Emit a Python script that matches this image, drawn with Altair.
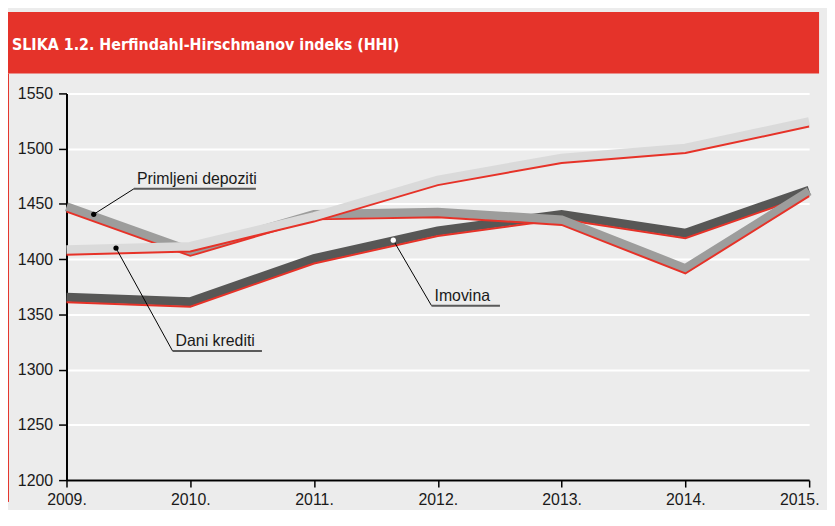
import altair as alt
import pandas as pd

# ---------------- data ----------------
years = [2009, 2010, 2011, 2012, 2013, 2014, 2015]
imovina = [1361, 1357, 1396, 1421, 1436, 1419, 1458]
primljeni_depoziti = [1443, 1403, 1436, 1438, 1431, 1387, 1457]
dani_krediti = [1404, 1407, 1434, 1467, 1487, 1496, 1520]

series_names = ["Imovina", "Primljeni depoziti", "Dani krediti"]
series_values = [imovina, primljeni_depoziti, dani_krediti]
band_colors = ["#575756", "#9d9d9c", "#dadada"]
red = "#e63228"

y_ticks = [1200, 1250, 1300, 1350, 1400, 1450, 1500, 1550]

title_text = "SLIKA 1.2. Herfindahl-Hirschmanov indeks (HHI)"

# annotation labels (anchored in data coordinates)
ann_labels = ["Primljeni depoziti", "Dani krediti", "Imovina"]
ann_dot_year = [2009.22, 2009.40, 2011.64]
ann_dot_value = [1440.6, 1410.0, 1417.2]
ann_line_start = [2009.545, 2009.857, 2011.949]
ann_line_end = [2010.53, 2010.579, 2012.502]
ann_line_value = [1463.7, 1316.9, 1357.9]
ann_dot_fill = ["#000000", "#000000", "#ffffff"]

FONT = "Liberation Sans"
TITLE_FONT = "Liberation Sans Narrow, DejaVu Sans Condensed, Roboto Condensed, Liberation Sans"
W, H = 749, 390

x_scale = alt.Scale(domain=[2009, 2015], nice=False, zero=False)
y_scale = alt.Scale(domain=[1200, 1550], nice=False, zero=False)

x_axis = alt.Axis(values=years, labelExpr="datum.value + '.'", title=None, grid=False,
                  domainColor="black", domainWidth=2, tickColor="black", tickWidth=1.5,
                  tickSize=7, labelFontSize=16, labelFont=FONT, labelColor="#1a1a1a",
                  labelPadding=5, labelFlush=False, labelOverlap=False,
                  labelOffset={"condition": {"test": "datum.value == 2015", "value": -10},
                               "value": 0})
y_axis = alt.Axis(values=y_ticks, format="d", title=None, grid=True, gridColor="white",
                  gridWidth=2, domainColor="black", domainWidth=2, tickColor="black",
                  tickWidth=1.5, tickSize=8, labelFontSize=16, labelFont=FONT,
                  labelColor="#1a1a1a", labelPadding=6)

layers = []

# header banner & left border (decoration)
hdr = pd.DataFrame({"t": [title_text]})
layers.append(alt.Chart(hdr).mark_rect(color="#e5332a").encode(
    x=alt.value(-59), x2=alt.value(759), y=alt.value(-82), y2=alt.value(-20)))
layers.append(alt.Chart(hdr).mark_text(align="left", baseline="alphabetic", fontSize=16,
                                       fontWeight="bold", color="white",
                                       font=TITLE_FONT).encode(
    x=alt.value(-55), y=alt.value(-44), text="t:N"))
layers.append(alt.Chart(hdr).mark_rule(color="#e5332a", strokeWidth=1).encode(
    x=alt.value(-58.5), y=alt.value(-20), y2=alt.value(412)))

# series: thick gray band with a thin red line at its lower edge
for name, vals, col in zip(series_names, series_values, band_colors):
    df = pd.DataFrame({"year": years, "value": vals, "series": name})
    enc = dict(x=alt.X("year:Q", scale=x_scale, axis=x_axis),
               y=alt.Y("value:Q", scale=y_scale, axis=y_axis))
    layers.append(alt.Chart(df).mark_line(color=col, strokeWidth=9, yOffset=-5,
                                          strokeJoin="miter", strokeCap="butt").encode(**enc))
    layers.append(alt.Chart(df).mark_line(color=red, strokeWidth=2,
                                          strokeJoin="miter").encode(**enc))

ann = pd.DataFrame({
    "label": ann_labels, "dx": ann_dot_year, "dy": ann_dot_value,
    "x1": ann_line_start, "x2": ann_line_end, "uy": ann_line_value, "fill": ann_dot_fill,
})
layers.append(alt.Chart(ann).mark_rule(color="black", strokeWidth=1).encode(
    x=alt.X("dx:Q", scale=x_scale), y=alt.Y("dy:Q", scale=y_scale),
    x2="x1:Q", y2="uy:Q"))
layers.append(alt.Chart(ann).mark_rule(color="#5a5a5a", strokeWidth=2).encode(
    x=alt.X("x1:Q", scale=x_scale), x2="x2:Q", y=alt.Y("uy:Q", scale=y_scale)))
layers.append(alt.Chart(ann).mark_circle(size=28, opacity=1).encode(
    x=alt.X("dx:Q", scale=x_scale), y=alt.Y("dy:Q", scale=y_scale),
    color=alt.Color("fill:N", scale=None)))
layers.append(alt.Chart(ann).mark_text(align="left", baseline="alphabetic", dx=3, dy=-5,
                                       fontSize=16, font=FONT, color="#1a1a1a").encode(
    x=alt.X("x1:Q", scale=x_scale), y=alt.Y("uy:Q", scale=y_scale), text="label:N"))

chart = alt.layer(*layers).properties(
    width=W, height=H, background="#ececec",
    padding={"left": 0, "top": 2, "right": 0, "bottom": 0},
).configure_view(stroke=None)

chart.save("out.html", embed_options={"renderer": "svg", "actions": False})
